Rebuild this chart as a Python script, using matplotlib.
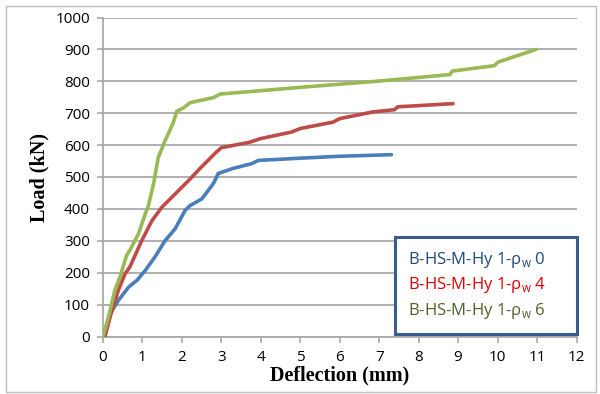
import matplotlib
matplotlib.use("Agg")
import matplotlib.pyplot as plt
from matplotlib.patches import Rectangle

# Load-deflection curves
x_hy0 = [0.0, 0.18, 0.39, 0.65, 0.86, 1.07, 1.32, 1.57, 1.83, 2.08, 2.2, 2.5,
         2.65, 2.8, 2.92, 3.3, 3.77, 3.94, 5.0, 6.0, 7.31]
y_hy0 = [0, 72, 113, 155, 176, 207, 250, 300, 338, 395, 410, 431,
         455, 480, 511, 527, 542, 552, 559, 565, 570]

x_hy4 = [0.05, 0.18, 0.39, 0.56, 0.68, 0.98, 1.24, 1.49, 1.83, 2.17, 2.46, 2.88,
         3.0, 3.72, 3.98, 4.78, 5.0, 5.83, 6.0, 6.84, 7.39, 7.47, 8.87]
y_hy4 = [0, 61, 145, 197, 218, 300, 363, 405, 447, 489, 527, 579,
         592, 609, 620, 641, 652, 672, 683, 704, 711, 720, 730]

x_hy6 = [0.0, 0.14, 0.3, 0.43, 0.6, 0.68, 0.9, 1.07, 1.15, 1.24, 1.28, 1.4,
         1.57, 1.78, 1.87, 2.04, 2.21, 2.8, 2.97, 5.0, 7.02, 8.79, 8.85,
         9.92, 10.01, 10.39, 10.98]
y_hy6 = [0, 61, 145, 187, 255, 270, 322, 384, 410, 457, 478, 561,
         613, 670, 706, 717, 733, 749, 760, 781, 801, 821, 832,
         849, 860, 876, 900]

labels = ['B-HS-M-Hy 1-ρ$_{\\mathregular{w}}$ 0',
          'B-HS-M-Hy 1-ρ$_{\\mathregular{w}}$ 4',
          'B-HS-M-Hy 1-ρ$_{\\mathregular{w}}$ 6']
line_colors = ['#4A7EBB', '#BE4B48', '#98B954']
text_colors = ['#1F497D', '#E00000', '#4F6228']

plt.rcParams['font.family'] = ['Open Sans', 'DejaVu Sans']

fig = plt.figure(figsize=(6.0, 3.94), dpi=100)
ax = fig.add_axes([103 / 600, 1 - 336.5 / 394, (576.5 - 103) / 600, (336.5 - 17.5) / 394])

lines = []
for xs, ys, c, lab in zip([x_hy0, x_hy4, x_hy6], [y_hy0, y_hy4, y_hy6], line_colors, labels):
    l, = ax.plot(xs, ys, color=c, lw=2.6, label=lab, solid_capstyle='round',
                 solid_joinstyle='round', zorder=3)
    lines.append(l)

ax.set_xlim(0, 12)
ax.set_ylim(0, 1000)
ax.set_xticks(range(0, 13))
ax.set_yticks(range(0, 1001, 100))
ax.grid(axis='y', color='#A9A9A9', lw=1.3)
ax.set_axisbelow(True)
for s in ['top', 'right']:
    ax.spines[s].set_visible(False)
for s in ['left', 'bottom']:
    ax.spines[s].set_color('#A9A9A9')
    ax.spines[s].set_linewidth(1.3)
ax.tick_params(axis='both', colors='#A9A9A9', labelcolor='black', labelsize=11,
               length=4.5, width=1.2)
ax.tick_params(axis='x', pad=5.5)
ax.tick_params(axis='y', pad=5)

ax.set_xlabel('Deflection (mm)', family='Liberation Serif', weight='bold', fontsize=14.5,
              labelpad=0)
ax.set_ylabel('Load (kN)', family='Liberation Serif', weight='bold', fontsize=14.5,
              labelpad=4)

leg = ax.legend(handles=lines, loc='lower left',
                bbox_to_anchor=((395 - 103) / 473.5, 2.5 / 319, (577 - 395) / 473.5, 0.29),
                mode='expand', borderaxespad=0, handlelength=0, handletextpad=0,
                fontsize=12, labelspacing=0.32, borderpad=0.8, fancybox=False,
                framealpha=1)
leg.get_frame().set_edgecolor('#385D8A')
leg.get_frame().set_linewidth(2.2)
for h in leg.legend_handles:
    h.set_visible(False)
for t, c in zip(leg.get_texts(), text_colors):
    t.set_color(c)

# outer chart border
fig.add_artist(Rectangle((5.5 / 600, 1 - 392 / 394), 590.5 / 600, 386 / 394,
                         transform=fig.transFigure, fill=False, ec='#BFBFBF', lw=1))

fig.savefig('out.png', dpi=100)
